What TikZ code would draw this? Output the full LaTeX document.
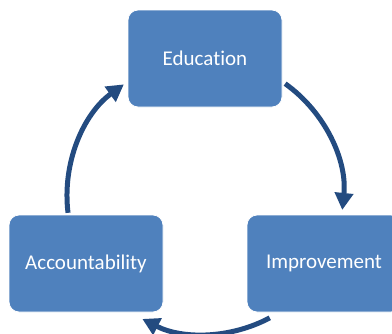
\documentclass[tikz,border=0pt]{standalone}
\usepackage{fontspec}
\setmainfont{Carlito}[Ligatures=NoCommon]
\usetikzlibrary{arrows.meta}
\definecolor{boxblue}{RGB}{79,129,189}
\definecolor{arrowblue}{RGB}{35,75,128}
\begin{document}
\begin{tikzpicture}[x=1pt,y=-1pt,
  stage/.style={rectangle, rounded corners=10pt, fill=boxblue, draw=white,
    line width=0.8pt, minimum width=154pt, minimum height=97pt, text=white,
    font=\fontsize{21}{25}\selectfont, inner sep=0pt},
  cycarrow/.style={draw=arrowblue, line width=5pt,
    -{Triangle[width=18pt,length=17pt]}}]
\useasboundingbox (0,0) rectangle (392,333);
\begin{scope}
\clip (0,0) rectangle (392,333);
% the three stages of the cycle
\node[stage] (edu) at (205,58.5) {Education};
\node[stage] (imp) at (324,263.5) {Improvement};
\node[stage] (acc) at (86,263.5) {Accountability};
% centre of the circle that carries the arrows
\coordinate (hub) at (205,196);
% curved arrows between the stages
\draw[cycarrow] ([shift={(-54.5:138)}]hub) arc[start angle=-54.5, end angle=5.8, radius=138];
\draw[cycarrow] ([shift={(62:138)}]hub) arc[start angle=62, end angle=117, radius=138];
\draw[cycarrow] ([shift={(173:138)}]hub) arc[start angle=173, end angle=234, radius=138];
\end{scope}
\end{tikzpicture}
\end{document}
